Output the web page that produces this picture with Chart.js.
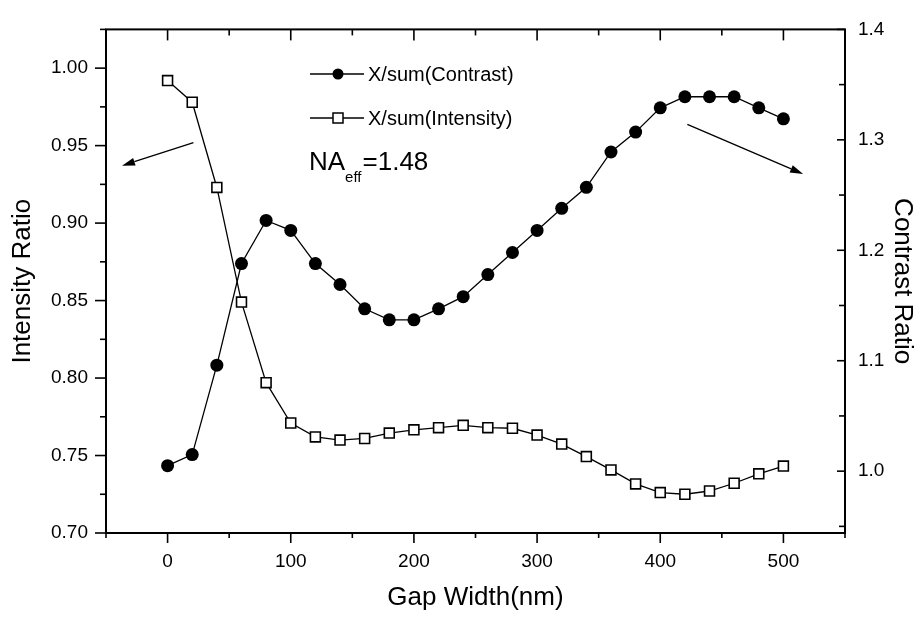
<!DOCTYPE html>
<html>
<head>
<meta charset="utf-8">
<script src="https://cdn.jsdelivr.net/npm/chart.js@4.4.1/dist/chart.umd.min.js"></script>
<style>
  body { margin: 0; background: #fff; }
  #wrap { width: 918px; height: 617px; }
</style>
</head>
<body>
<div id="wrap"><canvas id="myChart" width="918" height="617"></canvas></div>
<script>
// gap width (nm) and the two ratios
const gapWidth = [0, 20, 40, 60, 80, 100, 120, 140, 160, 180, 200, 220, 240, 260, 280, 300, 320, 340, 360, 380, 400, 420, 440, 460, 480, 500];
const contrastRatio = [1.005, 1.015, 1.096, 1.188, 1.227, 1.218, 1.188, 1.169, 1.147, 1.137, 1.137, 1.147, 1.158, 1.178, 1.198, 1.218, 1.238, 1.257, 1.289, 1.307, 1.329, 1.339, 1.339, 1.339, 1.329, 1.319];
const intensityRatio = [0.992, 0.978, 0.923, 0.849, 0.797, 0.771, 0.762, 0.760, 0.761, 0.7645, 0.7666, 0.768, 0.7695, 0.768, 0.7676, 0.7632, 0.7574, 0.7493, 0.7407, 0.7317, 0.7261, 0.725, 0.7271, 0.7321, 0.7382, 0.7432];

const xTicks = [0, 100, 200, 300, 400, 500];
const leftTicks = [0.70, 0.75, 0.80, 0.85, 0.90, 0.95, 1.00];
const rightTicks = [1.0, 1.1, 1.2, 1.3, 1.4];

const legendLabels = ['X/sum(Contrast)', 'X/sum(Intensity)'];

// arrows: [x0, y0, x1, y1, axis]  (data coords)
const arrows = [
  [21, 0.952, -37, 0.937, 'y'],
  [422, 1.314, 516, 1.269, 'y1']
];

const FONT = '"Liberation Sans", Arial, sans-serif';

function toXY(xs, ys) {
  return xs.map(function (x, i) { return { x: x, y: ys[i] }; });
}

function tickMarks(ctx, scale, values, len, dir, other) {
  values.forEach(function (v) {
    const p = scale.getPixelForValue(v);
    ctx.beginPath();
    if (scale.isHorizontal()) {
      ctx.moveTo(p, other); ctx.lineTo(p, other + dir * len);
    } else {
      ctx.moveTo(other, p); ctx.lineTo(other + dir * len, p);
    }
    ctx.stroke();
  });
}

function range(a, b, step) {
  let out = [];
  for (let i = 0; a + i * step <= b + 1e-9; i++) out.push(+(a + i * step).toFixed(4));
  return out;
}

const framePlugin = {
  id: 'frame',
  afterDraw(chart) {
    const ctx = chart.ctx;
    const a = chart.chartArea;
    const x = chart.scales.x, y = chart.scales.y, y1 = chart.scales.y1;
    ctx.save();
    ctx.strokeStyle = '#000';
    ctx.lineWidth = 2;
    ctx.strokeRect(a.left, a.top, a.right - a.left, a.bottom - a.top);

    ctx.lineWidth = 1.6;
    // bottom (outward) + top (inward)
    tickMarks(ctx, x, xTicks, 10, 1, a.bottom);
    tickMarks(ctx, x, range(-50, 550, 100), 5, 1, a.bottom);
    tickMarks(ctx, x, xTicks, 11, 1, a.top);
    tickMarks(ctx, x, range(-50, 550, 100), 6, 1, a.top);
    // left outward
    tickMarks(ctx, y, leftTicks, 11, -1, a.left);
    tickMarks(ctx, y, range(0.725, 1.025, 0.05), 6, -1, a.left);
    // right inward
    tickMarks(ctx, y1, rightTicks, 8, -1, a.right);
    tickMarks(ctx, y1, range(0.95, 1.35, 0.1), 6, -1, a.right);

    // arrows
    ctx.lineWidth = 1.3;
    ctx.fillStyle = '#000';
    arrows.forEach(function (ar) {
      const ys = chart.scales[ar[4]];
      const x0 = x.getPixelForValue(ar[0]), y0 = ys.getPixelForValue(ar[1]);
      const x1 = x.getPixelForValue(ar[2]), y1p = ys.getPixelForValue(ar[3]);
      const ang = Math.atan2(y1p - y0, x1 - x0);
      const hl = 13, hw = 4;
      const bx = x1 - hl * Math.cos(ang), by = y1p - hl * Math.sin(ang);
      ctx.beginPath();
      ctx.moveTo(x0, y0); ctx.lineTo(bx, by);
      ctx.stroke();
      ctx.beginPath();
      ctx.moveTo(x1, y1p);
      ctx.lineTo(bx - hw * Math.sin(ang), by + hw * Math.cos(ang));
      ctx.lineTo(bx + hw * Math.sin(ang), by - hw * Math.cos(ang));
      ctx.closePath();
      ctx.fill();
    });

    // legend
    const rows = [74, 118];
    chart.data.datasets.forEach(function (ds, i) {
      const ly = rows[i];
      ctx.lineWidth = 1.3;
      ctx.strokeStyle = '#000';
      ctx.beginPath();
      ctx.moveTo(310, ly); ctx.lineTo(364, ly);
      ctx.stroke();
      ctx.lineWidth = 1.5;
      ctx.fillStyle = ds.pointBackgroundColor;
      if (ds.pointStyle === 'rect') {
        ctx.fillRect(333, ly - 5, 10, 10);
        ctx.strokeRect(333, ly - 5, 10, 10);
      } else {
        ctx.beginPath();
        ctx.arc(338, ly, 5.5, 0, Math.PI * 2);
        ctx.fill();
      }
      ctx.fillStyle = '#000';
      ctx.font = '20px ' + FONT;
      ctx.textBaseline = 'middle';
      ctx.textAlign = 'left';
      ctx.fillText(legendLabels[i], 368, ly + 1);
    });

    // NA_eff label
    ctx.textBaseline = 'alphabetic';
    ctx.font = '26px ' + FONT;
    ctx.fillText('NA', 309, 170);
    let w = ctx.measureText('NA').width;
    ctx.font = '15px ' + FONT;
    ctx.fillText('eff', 309 + w, 182);
    let w2 = ctx.measureText('eff').width;
    ctx.font = '26px ' + FONT;
    ctx.fillText('=1.48', 309 + w + w2 + 1, 170);
    ctx.restore();
  }
};

const ctx = document.getElementById('myChart');

let charts = new Chart(ctx, {
  type: 'line',
  data: {
    datasets: [
      {
        label: legendLabels[0],
        data: toXY(gapWidth, contrastRatio),
        yAxisID: 'y1',
        borderColor: '#000',
        borderWidth: 1.3,
        pointStyle: 'circle',
        pointRadius: 6.5,
        pointBorderWidth: 0,
        pointBackgroundColor: '#000',
        tension: 0
      },
      {
        label: legendLabels[1],
        data: toXY(gapWidth, intensityRatio),
        yAxisID: 'y',
        borderColor: '#000',
        borderWidth: 1.3,
        pointStyle: 'rect',
        pointRadius: 7,
        pointBorderWidth: 1.6,
        pointBorderColor: '#000',
        pointBackgroundColor: '#fff',
        tension: 0
      }
    ]
  },
  options: {
    responsive: false,
    animation: false,
    layout: { padding: { top: 14, left: 0, right: 0, bottom: 0 } },
    plugins: {
      legend: { display: false },
      tooltip: { enabled: false }
    },
    scales: {
      x: {
        type: 'linear',
        min: -50,
        max: 550,
        afterBuildTicks: function (s) { s.ticks = xTicks.map(function (v) { return { value: v }; }); },
        afterFit: function (s) { s.height = 84; },
        grid: { display: false, drawTicks: false },
        border: { display: false },
        ticks: {
          color: '#000',
          font: { family: FONT, size: 19 },
          padding: 17,
          maxRotation: 0,
          callback: function (v) { return String(v); }
        },
        title: {
          display: true,
          text: 'Gap Width(nm)',
          color: '#000',
          font: { family: FONT, size: 26 },
          padding: { top: 0, bottom: 4 }
        }
      },
      y: {
        position: 'left',
        min: 0.70,
        max: 1.025,
        afterBuildTicks: function (s) { s.ticks = leftTicks.map(function (v) { return { value: v }; }); },
        afterFit: function (s) { s.width = 106; },
        grid: { display: false, drawTicks: false },
        border: { display: false },
        ticks: {
          color: '#000',
          font: { family: FONT, size: 19 },
          padding: 18,
          callback: function (v) { return v.toFixed(2); }
        },
        title: {
          display: true,
          text: 'Intensity Ratio',
          color: '#000',
          font: { family: FONT, size: 26 },
          padding: { top: 7, bottom: 0 }
        }
      },
      y1: {
        position: 'right',
        min: 0.944,
        max: 1.4,
        afterBuildTicks: function (s) { s.ticks = rightTicks.map(function (v) { return { value: v }; }); },
        afterFit: function (s) { s.width = 73; },
        grid: { display: false, drawTicks: false },
        border: { display: false },
        ticks: {
          color: '#000',
          font: { family: FONT, size: 19 },
          padding: 13,
          callback: function (v) { return v.toFixed(1); }
        },
        title: {
          display: true,
          text: 'Contrast Ratio',
          color: '#000',
          font: { family: FONT, size: 26 },
          padding: { top: 0, bottom: 0 }
        }
      }
    }
  },
  plugins: [framePlugin]
});
</script>
</body>
</html>
